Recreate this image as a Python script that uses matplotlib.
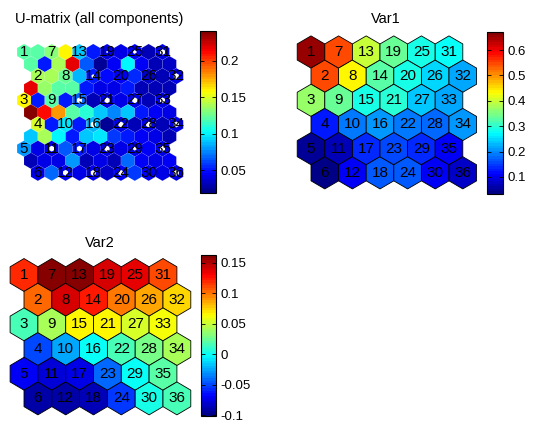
import numpy as np
import matplotlib
matplotlib.use("Agg")
import matplotlib.pyplot as plt
from matplotlib.collections import PolyCollection
from matplotlib.colors import Normalize, ListedColormap

plt.rcParams['font.family'] = ['Liberation Sans', 'DejaVu Sans']

# ---------------- data ----------------
n_rows, n_cols = 6, 6
unit_labels = [str(i + 1) for i in range(36)]  # column-major numbering

# Var1 component values (unit 1..36, column-major: units 1-6 first column)
var1 = [0.66, 0.55, 0.37, 0.13, 0.05, 0.04,
        0.55, 0.44, 0.34, 0.19, 0.07, 0.11,
        0.40, 0.33, 0.29, 0.21, 0.14, 0.17,
        0.34, 0.29, 0.30, 0.19, 0.16, 0.17,
        0.29, 0.25, 0.24, 0.18, 0.14, 0.11,
        0.28, 0.22, 0.22, 0.21, 0.11, 0.08]

var2 = [0.120, 0.105, 0.015, -0.050, -0.070, -0.090,
        0.160, 0.140, 0.040, -0.025, -0.080, -0.090,
        0.160, 0.125, 0.065, 0.000, -0.075, -0.085,
        0.140, 0.100, 0.065, 0.015, -0.040, -0.055,
        0.135, 0.085, 0.055, 0.030, 0.000, 0.003,
        0.110, 0.075, 0.060, 0.040, 0.020, 0.015]

# U-matrix (11 x 11), row by row
umat = [
    [0.12, 0.12, 0.13, 0.16, 0.09, 0.05, 0.04, 0.04, 0.045, 0.03, 0.04],
    [0.12, 0.05, 0.14, 0.22, 0.065, 0.025, 0.045, 0.10, 0.045, 0.03, 0.035],
    [0.14, 0.14, 0.125, 0.085, 0.05, 0.048, 0.045, 0.055, 0.035, 0.03, 0.04],
    [0.22, 0.135, 0.12, 0.12, 0.05, 0.04, 0.04, 0.05, 0.03, 0.03, 0.03],
    [0.16, 0.05, 0.12, 0.05, 0.07, 0.03, 0.04, 0.04, 0.04, 0.03, 0.04],
    [0.24, 0.21, 0.18, 0.12, 0.11, 0.09, 0.075, 0.09, 0.05, 0.045, 0.04],
    [0.15, 0.05, 0.095, 0.05, 0.085, 0.025, 0.04, 0.03, 0.04, 0.03, 0.04],
    [0.09, 0.14, 0.10, 0.05, 0.09, 0.095, 0.06, 0.05, 0.045, 0.04, 0.03],
    [0.08, 0.04, 0.04, 0.065, 0.05, 0.04, 0.04, 0.04, 0.04, 0.045, 0.04],
    [0.03, 0.04, 0.04, 0.08, 0.03, 0.04, 0.03, 0.07, 0.045, 0.04, 0.045],
    [0.04, 0.07, 0.045, 0.04, 0.045, 0.035, 0.045, 0.06, 0.045, 0.04, 0.04],
]

# hit markers on the U-matrix (relative size per unit, 0 = none)
hits = [0, 0, 0, 0, 0, 0,
        0, 0, 0, 0, 3, 3,
        0, 2, 3, 3, 3, 3,
        1, 0, 3, 3, 3, 3,
        2, 0, 3, 3, 2, 0,
        3, 3, 3, 3, 3, 3]

umat_range = (0.0184, 0.241)
var1_range = (0.033, 0.671)
var2_range = (-0.101, 0.163)
umat_ticks = [0.05, 0.1, 0.15, 0.2]
var1_ticks = [0.1, 0.2, 0.3, 0.4, 0.5, 0.6]
var2_ticks = [-0.1, -0.05, 0, 0.05, 0.1, 0.15]

# ---------------- figure ----------------
W, H = 537, 424
fig = plt.figure(figsize=(W / 100, H / 100), dpi=100)

# MATLAB-style jet(64)
t = (np.arange(64) + 0.5) / 64
jet_rgb = np.column_stack([np.clip(1.5 - np.abs(4 * t - 3), 0, 1),
                           np.clip(1.5 - np.abs(4 * t - 2), 0, 1),
                           np.clip(1.5 - np.abs(4 * t - 1), 0, 1)])
cmap = ListedColormap(jet_rgb)


def hexagon(cx, cy, r):
    ang = np.deg2rad(np.arange(30, 390, 60))
    return np.column_stack([cx + r * np.cos(ang), cy + r * np.sin(ang)])


def make_axes(box, origin, sx, sy):
    x0, y0, x1, y1 = box
    ax = fig.add_axes([x0 / W, 1 - y1 / H, (x1 - x0) / W, (y1 - y0) / H])
    ox, oy = origin
    ax.set_xlim((x0 - ox) / sx, (x1 - ox) / sx)
    ax.set_ylim((y1 - oy) / sy, (y0 - oy) / sy)
    ax.axis('off')
    return ax


def unit_xy(k):
    c, r = divmod(k, n_rows)
    return c + 0.5 * (r % 2), r * np.sqrt(0.75)


def make_cbar(box, mappable, ticks):
    x0, y0, x1, y1 = box
    cax = fig.add_axes([x0 / W, 1 - y1 / H, (x1 - x0) / W, (y1 - y0) / H])
    cb = fig.colorbar(mappable, cax=cax, ticks=ticks)
    cb.outline.set_linewidth(0.8)
    cax.tick_params(direction='in', length=3, width=0.6, left=True, right=True,
                    labelsize=9.5, pad=3)
    cb.ax.yaxis.set_major_formatter(matplotlib.ticker.FuncFormatter(lambda v, p: ('%g' % v)))
    return cb


LABEL_FS = 11


def component_plane(box, origin, sx, sy, values, vrange, title, title_xy, cbox, ticks):
    ax = make_axes(box, origin, sx, sy)
    polys = [hexagon(*unit_xy(k), 1 / np.sqrt(3)) for k in range(36)]
    pc = PolyCollection(polys, array=np.array(values), cmap=cmap,
                        norm=Normalize(*vrange), edgecolors='black', linewidths=0.6)
    ax.add_collection(pc)
    for k in range(36):
        x, y = unit_xy(k)
        ax.text(x, y, unit_labels[k], ha='center', va='center', fontsize=LABEL_FS)
    fig.text(title_xy[0] / W, 1 - title_xy[1] / H, title, ha='center', va='center', fontsize=10.5)
    make_cbar(cbox, pc, ticks)


# ---- U-matrix ----
axu = make_axes((5, 30, 195, 190), (24, 52), 27.7, 27.9)
polys, vals = [], []
offs = [0, 0.5, 1, 0.5]
for i in range(11):
    for j in range(11):
        x = (j + offs[i % 4]) / 2
        y = i * np.sqrt(0.75) / 2
        polys.append(hexagon(x, y, 0.5 / np.sqrt(3)))
        vals.append(umat[i][j])
pcu = PolyCollection(polys, array=np.array(vals), cmap=cmap, norm=Normalize(*umat_range),
                     edgecolors=(1, 1, 1, 0.12), linewidths=0.4)
axu.add_collection(pcu)
hit_polys = []
for k in range(36):
    if hits[k] > 0:
        x, y = unit_xy(k)
        hit_polys.append(hexagon(x, y, 0.035 * hits[k]))
axu.add_collection(PolyCollection(hit_polys, facecolors='white', edgecolors='none'))
for k in range(36):
    x, y = unit_xy(k)
    axu.text(x, y, unit_labels[k], ha='center', va='center', fontsize=LABEL_FS)
fig.text(99 / W, 1 - 19 / H, 'U-matrix (all components)', ha='center', va='center', fontsize=10.5)
make_cbar((200, 31, 216, 193), pcu, umat_ticks)

# ---- Var1 ----
component_plane((285, 30, 480, 196), (311, 52), 27.6, 27.9, var1, var1_range,
                'Var1', (386, 19), (487, 32, 503, 194), var1_ticks)

# ---- Var2 ----
component_plane((5, 252, 195, 420), (24, 275), 27.8, 28.5, var2, var2_range,
                'Var2', (100, 243), (201, 255, 216, 416), var2_ticks)

fig.savefig('out.png', dpi=100)
